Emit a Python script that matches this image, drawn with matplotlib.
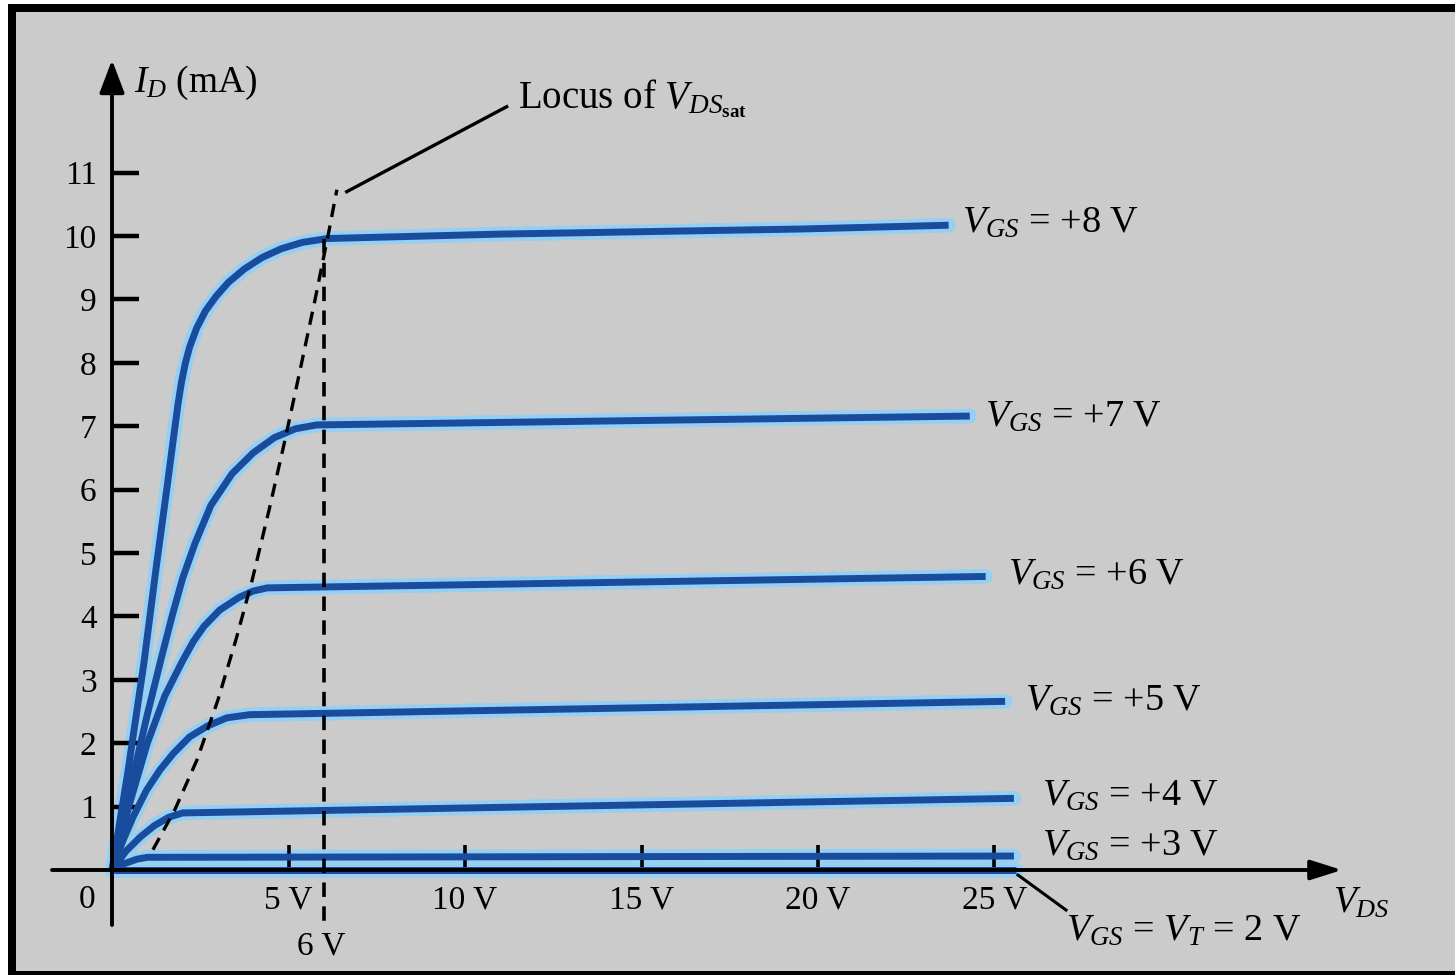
import matplotlib
matplotlib.use("Agg")
import matplotlib.pyplot as plt
from matplotlib.patches import Rectangle

plt.rcParams['font.family'] = ['Liberation Serif', 'DejaVu Serif']
plt.rcParams['mathtext.fontset'] = 'custom'
plt.rcParams['mathtext.rm'] = 'Liberation Serif'
plt.rcParams['mathtext.it'] = 'Liberation Serif:italic'
plt.rcParams['mathtext.bf'] = 'Liberation Serif:bold'

# ---- drain characteristics of an n-channel enhancement MOSFET ----
vgs_levels = [8, 7, 6, 5, 4, 3, 2]

vds_8 = [0, 0.45, 0.9, 1.27, 1.55, 1.75, 1.87, 1.97, 2.08, 2.2, 2.4, 2.65, 2.95,
         3.3, 3.75, 4.25, 4.8, 5.4, 6.1, 11.0, 19.5, 23.7]
id_8 = [0, 1.55, 3.25, 4.85, 6.0, 6.85, 7.35, 7.7, 8.0, 8.25, 8.55, 8.82, 9.05,
        9.27, 9.48, 9.66, 9.8, 9.9, 9.96, 10.03, 10.11, 10.17]

vds_7 = [0, 0.5, 1.0, 1.4, 1.7, 2.0, 2.35, 2.8, 3.4, 4.0, 4.6, 5.2, 5.8, 24.3]
id_7 = [0, 1.25, 2.45, 3.35, 4.0, 4.6, 5.15, 5.75, 6.25, 6.58, 6.82, 6.96, 7.02, 7.16]

vds_6 = [0, 0.5, 1.0, 1.5, 2.0, 2.3, 2.6, 3.05, 3.6, 4.0, 4.4, 24.75]
id_6 = [0, 1.05, 2.0, 2.75, 3.3, 3.6, 3.84, 4.1, 4.3, 4.4, 4.45, 4.63]

vds_5 = [0, 0.3, 0.6, 0.98, 1.36, 1.74, 2.2, 2.7, 3.25, 3.9, 25.3]
id_5 = [0, 0.45, 0.84, 1.26, 1.58, 1.84, 2.1, 2.27, 2.4, 2.45, 2.66]

vds_4 = [0, 0.4, 0.8, 1.2, 1.6, 2.0, 25.55]
id_4 = [0, 0.3, 0.52, 0.7, 0.83, 0.9, 1.13]

vds_3 = [0, 0.35, 0.7, 1.0, 25.55]
id_3 = [0, 0.1, 0.17, 0.2, 0.22]

vds_2 = [0, 25.6]
id_2 = [0, 0]

curves_vds = [vds_8, vds_7, vds_6, vds_5, vds_4, vds_3, vds_2]
curves_id = [id_8, id_7, id_6, id_5, id_4, id_3, id_2]

# locus of V_DS(sat)
locus_vds = [1.16, 1.78, 2.41, 3.0, 3.51, 3.97, 4.45, 4.9, 5.33, 5.75, 6.15, 6.37]
locus_id = [0.32, 0.95, 1.74, 2.68, 3.63, 4.57, 5.68, 6.78, 7.89, 8.99, 10.09, 10.73]
vds_sat_marked = 6
id_at_marked = 9.96

y_ticks = list(range(1, 12))
x_ticks = [5, 10, 15, 20, 25]
x_tick_labels = [f"{v} V" for v in x_ticks]

# ---- figure geometry (pixel based) ----
W, H = 1455, 975
PX0, PY0 = 112.0, 870.0      # pixel location of the origin
SX, SY = 35.3, 63.4          # pixels per volt / per mA


def pos(x, y):
    """Pixel position (from top-left) -> data coordinates."""
    return (x - PX0) / SX, (PY0 - y) / SY


fig = plt.figure(figsize=(W / 100, H / 100), dpi=100, facecolor='white')
# black frame and grey panel
fig.patches.append(Rectangle((8 / W, 0), 1.0, 1 - 4 / H, transform=fig.transFigure,
                             facecolor='black', edgecolor='none', zorder=-20))
fig.patches.append(Rectangle((16 / W, 4 / H), 1.0, 1 - 16 / H, transform=fig.transFigure,
                             facecolor='#cbcbcb', edgecolor='none', zorder=-10))

ax = fig.add_axes([0, 0, 1, 1])
ax.set_xlim(-PX0 / SX, (W - PX0) / SX)
ax.set_ylim((PY0 - H) / SY, PY0 / SY)
ax.patch.set_alpha(0)
for s in ax.spines.values():
    s.set_visible(False)
ax.spines['left'].set_position(('data', 0))
ax.spines['bottom'].set_position(('data', 0))

# curves: light halo underneath, dark blue core on top
for v, i in zip(curves_vds, curves_id):
    ax.plot(v, i, color='#96cff2', lw=10.5, solid_capstyle='round',
            solid_joinstyle='round', zorder=1.5)
for v, i in zip(curves_vds, curves_id):
    ax.plot(v, i, color='#1a4c9e', lw=5.0, solid_capstyle='butt',
            solid_joinstyle='round', zorder=1.6)

# dashed locus and the 6 V marker line
ax.plot(locus_vds, locus_id, color='black', lw=2.4, linestyle=(0, (4, 2.6)), zorder=2.2)
ax.plot([vds_sat_marked, vds_sat_marked], [id_at_marked, pos(0, 927)[1]],
        color='black', lw=2.6, linestyle=(0, (4, 2.6)), zorder=2.2)

# leader to the locus caption
lx0, ly0 = pos(346.7, 191.7)
lx1, ly1 = pos(506.7, 106.7)
ax.plot([lx0, lx1], [ly0, ly1], color='black', lw=2.4, zorder=2.3)

# axes with arrowheads
ax.annotate('', xy=pos(PX0, 60), xytext=pos(PX0, 925),
            arrowprops=dict(arrowstyle='-|>,head_length=1.0,head_width=0.38',
                            lw=2.8, color='black', shrinkA=0, shrinkB=0,
                            mutation_scale=20), zorder=3)
ax.annotate('', xy=pos(1342, PY0), xytext=pos(52, PY0),
            arrowprops=dict(arrowstyle='-|>,head_length=0.95,head_width=0.3',
                            lw=2.8, color='black', shrinkA=0, shrinkB=0,
                            mutation_scale=20), zorder=3)

# ticks
ax.set_yticks(y_ticks)
ax.set_yticklabels([str(t) for t in y_ticks])
ax.set_xticks(x_ticks)
ax.set_xticklabels(x_tick_labels)
ax.tick_params(axis='y', direction='in', length=19.5, width=3.2, pad=11,
               labelsize=24, colors='black')
ax.tick_params(axis='x', direction='in', length=18, width=2.6, pad=11,
               labelsize=24, colors='black')

# axis captions
ax.text(*pos(87, 900), '0', fontsize=24, ha='center', va='center')
ax.text(*pos(321, 946), '6 V', fontsize=24, ha='center', va='center')
ax.text(*pos(134, 92), r'$I_D$ (mA)', fontsize=27, ha='left', va='baseline')
ax.text(*pos(1333, 913), r'$V_{DS}$', fontsize=27, ha='left', va='baseline')
ax.text(*pos(518, 108), r'Locus of $V_{DS_{\mathbf{sat}}}$', fontsize=28,
        ha='left', va='baseline')

# curve labels
label_px = [(962, 233), (985, 427), (1008, 585), (1025, 711), (1042, 806), (1042, 856)]
for lv, (px, py) in zip(vgs_levels[:-1], label_px):
    ax.text(*pos(px, py), rf'$V_{{GS}}$ = +{lv} V', fontsize=27.5,
            ha='left', va='baseline')

ax.plot(*zip(pos(1018, 875), pos(1066, 910)), color='black', lw=2.2, zorder=2.3)
ax.text(*pos(1066, 941), rf'$V_{{GS}}$ = $V_T$ = {vgs_levels[-1]} V', fontsize=27.5,
        ha='left', va='baseline')

fig.savefig('out.png', dpi=100, facecolor='white')
